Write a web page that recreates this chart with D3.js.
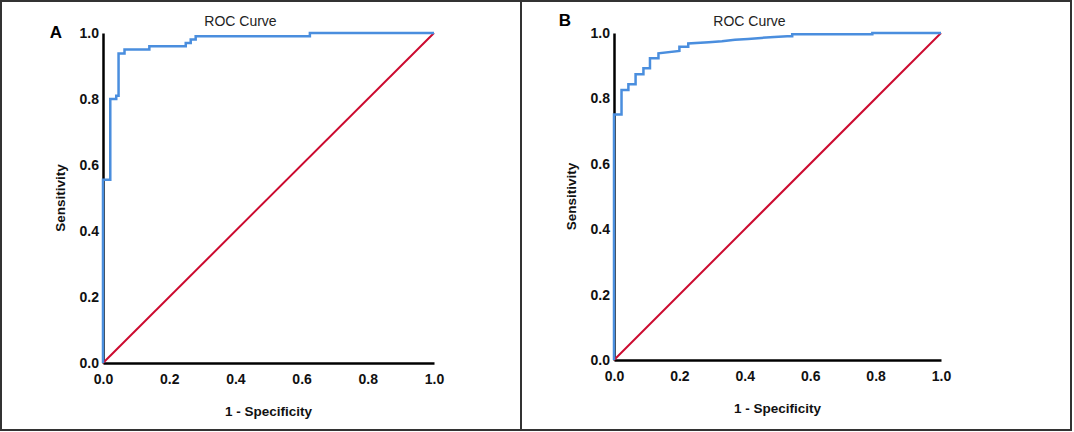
<!DOCTYPE html>
<html>
<head>
<meta charset="utf-8">
<script src="https://cdn.jsdelivr.net/npm/d3@7"></script>
<style>
  body { margin: 0; background: #fff; }
  text { font-family: "Liberation Sans", Arial, sans-serif; }
</style>
</head>
<body>
<div id="root"></div>
<script>
// Panel A ROC points (1 - specificity, sensitivity), step corners
const fprA = [0, 0, 0.022, 0.022, 0.04, 0.04, 0.047, 0.047, 0.065, 0.065, 0.14, 0.14, 0.25, 0.25, 0.265, 0.265, 0.28, 0.28, 0.625, 0.625, 1];
const tprA = [0, 0.555, 0.555, 0.80, 0.80, 0.81, 0.81, 0.938, 0.938, 0.95, 0.95, 0.96, 0.96, 0.97, 0.97, 0.98, 0.98, 0.99, 0.99, 1, 1];

// Panel B ROC points
const fprB = [0, 0, 0.023, 0.023, 0.044, 0.044, 0.066, 0.066, 0.09, 0.09, 0.11, 0.11, 0.136, 0.136, 0.2, 0.2, 0.227, 0.227, 0.29, 0.33, 0.37, 0.41, 0.45, 0.49, 0.53, 0.545, 0.545, 0.79, 0.79, 1];
const tprB = [0, 0.751, 0.751, 0.826, 0.826, 0.843, 0.843, 0.874, 0.874, 0.892, 0.892, 0.923, 0.923, 0.938, 0.945, 0.958, 0.958, 0.968, 0.972, 0.975, 0.979, 0.982, 0.985, 0.988, 0.99, 0.99, 0.996, 0.996, 1, 1];

// Shared labels
const ticks = [0, 0.2, 0.4, 0.6, 0.8, 1.0];
const chartTitle = "ROC Curve";
const xTitle = "1 - Specificity";
const yTitle = "Sensitivity";

const fullWidth = 1074;
const fullHeight = 432;

const svg = d3
  .select("#root")
  .append("svg")
  .attr("width", fullWidth)
  .attr("height", fullHeight);

// Frame and divider
svg
  .append("rect")
  .attr("x", 1)
  .attr("y", 1)
  .attr("width", 1070)
  .attr("height", 429)
  .attr("fill", "none")
  .attr("stroke", "#333")
  .attr("stroke-width", 2);

svg
  .append("line")
  .attr("x1", 521)
  .attr("x2", 521)
  .attr("y1", 1)
  .attr("y2", 430)
  .attr("stroke", "#333")
  .attr("stroke-width", 2);

function drawPanel(cfg) {
  const { fpr, tpr, left, right, top, bottom, letter, letterX, letterY } = cfg;

  const x = d3.scaleLinear().domain([0, 1]).range([left, right]);
  const y = d3.scaleLinear().domain([0, 1]).range([bottom, top]);
  const g = svg.append("g");

  // Axes
  const xAxis = d3
    .axisBottom(x)
    .tickValues(ticks)
    .tickFormat(d3.format(".1f"))
    .tickSize(0)
    .tickPadding(11);
  const yAxis = d3
    .axisLeft(y)
    .tickValues(ticks)
    .tickFormat(d3.format(".1f"))
    .tickSize(0)
    .tickPadding(4);

  [
    g.append("g").attr("transform", `translate(0,${bottom})`).call(xAxis),
    g.append("g").attr("transform", `translate(${left},0)`).call(yAxis),
  ].forEach((ax) => {
    ax.select(".domain").attr("stroke", "#000").attr("stroke-width", 2.5);
    ax.selectAll("text")
      .attr("fill", "#111")
      .style("font-size", "14px")
      .style("font-weight", "bold");
  });

  // Reference diagonal
  g.append("line")
    .attr("x1", x(0))
    .attr("y1", y(0))
    .attr("x2", x(1))
    .attr("y2", y(1))
    .attr("stroke", "#cc0a2f")
    .attr("stroke-width", 2);

  // ROC curve
  const line = d3
    .line()
    .x((d) => x(d[0]))
    .y((d) => y(d[1]));
  g.append("path")
    .datum(fpr.map((f, i) => [f, tpr[i]]))
    .attr("d", line)
    .attr("fill", "none")
    .attr("stroke", "#4a8ede")
    .attr("stroke-width", 2.5)
    .attr("stroke-linejoin", "miter");

  // Title
  g.append("text")
    .attr("x", (left + right) / 2 - 28)
    .attr("y", 26)
    .attr("text-anchor", "middle")
    .attr("fill", "#222")
    .style("font-size", "14px")
    .text(chartTitle);

  // Axis titles
  g.append("text")
    .attr("x", (left + right) / 2)
    .attr("y", bottom + 53)
    .attr("text-anchor", "middle")
    .attr("fill", "#111")
    .style("font-size", "13.5px")
    .style("font-weight", "bold")
    .text(xTitle);

  g.append("text")
    .attr("transform", `translate(${left - 38},${(top + bottom) / 2}) rotate(-90)`)
    .attr("text-anchor", "middle")
    .attr("fill", "#111")
    .style("font-size", "13.5px")
    .style("font-weight", "bold")
    .text(yTitle);

  // Panel letter
  g.append("text")
    .attr("x", letterX)
    .attr("y", letterY)
    .attr("text-anchor", "middle")
    .attr("fill", "#000")
    .style("font-size", "17px")
    .style("font-weight", "bold")
    .text(letter);
}

drawPanel({ fpr: fprA, tpr: tprA, left: 103, right: 434, top: 33, bottom: 363, letter: "A", letterX: 56, letterY: 38 });
drawPanel({ fpr: fprB, tpr: tprB, left: 614, right: 941, top: 33, bottom: 360, letter: "B", letterX: 565, letterY: 26 });
</script>
</body>
</html>
